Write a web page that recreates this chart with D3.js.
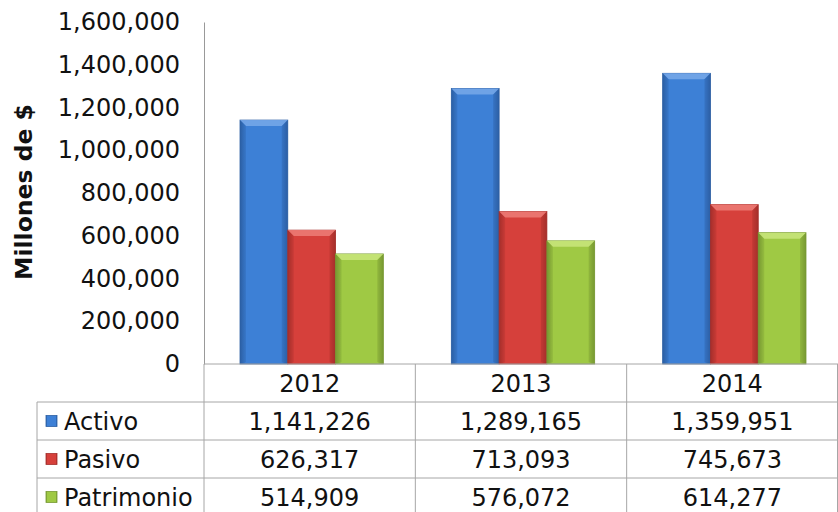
<!DOCTYPE html>
<html>
<head>
<meta charset="utf-8">
<script src="https://cdn.jsdelivr.net/npm/d3@7"></script>
<style>
  body { margin: 0; background: #fff; }
  svg text { font-family: "DejaVu Sans", Verdana, sans-serif; fill: #111; }
</style>
</head>
<body>
<div id="chart"></div>
<script>
// data
var years = ["2012", "2013", "2014"];
var series = ["Activo", "Pasivo", "Patrimonio"];
var activo = [1141226, 1289165, 1359951];
var pasivo = [626317, 713093, 745673];
var patrimonio = [514909, 576072, 614277];
var yTicks = [0, 200000, 400000, 600000, 800000, 1000000, 1200000, 1400000, 1600000];

var values = [activo, pasivo, patrimonio];
var colors = [
    { mid: "#3d80d6", edge: "#2c5fa4", top: "#74a6e8" },
    { mid: "#d6403b", edge: "#a52f2b", top: "#ec7a74" },
    { mid: "#9fc944", edge: "#779932", top: "#c6e47a" }
];

var W = 838, H = 512;
var plotLeft = 204, plotRight = 838, plotTop = 22, base = 364;
var rowH = 38, tableLeft = 37;
var fontSize = "24px";

var svg = d3.select("#chart").append("svg")
    .attr("width", W)
    .attr("height", H);

var defs = svg.append("defs");
colors.forEach(function (c, i) {
    var g = defs.append("linearGradient")
        .attr("id", "grad" + i)
        .attr("x1", "0").attr("x2", "1").attr("y1", "0").attr("y2", "0");
    g.append("stop").attr("offset", "0").attr("stop-color", c.edge);
    g.append("stop").attr("offset", "0.12").attr("stop-color", c.mid);
    g.append("stop").attr("offset", "0.5").attr("stop-color", c.mid);
    g.append("stop").attr("offset", "0.88").attr("stop-color", c.mid);
    g.append("stop").attr("offset", "1").attr("stop-color", c.edge);
});

// scales
var x0 = d3.scaleBand().domain(years).range([plotLeft, plotRight]).padding(0);
var bw = x0.bandwidth();
var x1 = d3.scaleBand().domain(series).range([36, bw - 32]).padding(0);
var y = d3.scaleLinear().domain([0, 1600000]).range([base, plotTop]);

// y axis
var yAxis = d3.axisLeft(y).tickValues(yTicks).tickFormat(d3.format(",")).tickSize(0).tickPadding(24);
var ya = svg.append("g")
    .attr("transform", "translate(" + plotLeft + ",0)")
    .call(yAxis);
ya.select(".domain").attr("stroke", "#999");
ya.selectAll("text")
    .style("font-size", fontSize)
    .style("font-family", "DejaVu Sans, Verdana, sans-serif")
    .attr("fill", "#111");

svg.append("text")
    .attr("transform", "translate(32,192) rotate(-90)")
    .attr("text-anchor", "middle")
    .style("font-size", "23.5px")
    .style("font-weight", "bold")
    .text("Millones de $");

// bars
var groups = svg.selectAll("g.year")
    .data(years)
    .enter().append("g")
    .attr("class", "year")
    .attr("transform", function (d) { return "translate(" + x0(d) + ",0)"; });

groups.each(function (yr, yi) {
    var g = d3.select(this);
    series.forEach(function (s, si) {
        var v = values[si][yi];
        var bx = x1(s), by = y(v), w = x1.bandwidth(), h = base - by;
        var c = colors[si];
        g.append("rect")
            .attr("x", bx).attr("y", by)
            .attr("width", w).attr("height", h)
            .attr("fill", "url(#grad" + si + ")")
            .attr("stroke", c.edge).attr("stroke-width", 0.8);
        // bevel
        var b = 6;
        g.append("polygon")
            .attr("points", [[bx, by], [bx + w, by], [bx + w - b, by + b], [bx + b, by + b]].join(" "))
            .attr("fill", c.top).attr("opacity", 0.9);
        g.append("polygon")
            .attr("points", [[bx, by], [bx + b, by + b], [bx + b, base - 2], [bx, base]].join(" "))
            .attr("fill", c.edge).attr("opacity", 0.3);
        g.append("polygon")
            .attr("points", [[bx + w, by], [bx + w - b, by + b], [bx + w - b, base - 2], [bx + w, base]].join(" "))
            .attr("fill", c.edge).attr("opacity", 0.4);
    });
});

// data table
var lineColor = "#a6a6a6";
var table = svg.append("g").attr("class", "table");

table.append("line").attr("x1", plotLeft).attr("x2", plotRight).attr("y1", base).attr("y2", base)
    .attr("stroke", lineColor);
[1, 2, 3].forEach(function (r) {
    table.append("line")
        .attr("x1", tableLeft).attr("x2", plotRight)
        .attr("y1", base + rowH * r).attr("y2", base + rowH * r)
        .attr("stroke", lineColor);
});
years.forEach(function (yr) {
    table.append("line")
        .attr("x1", x0(yr)).attr("x2", x0(yr))
        .attr("y1", base).attr("y2", H)
        .attr("stroke", lineColor);
});
table.append("line").attr("x1", plotRight - 0.5).attr("x2", plotRight - 0.5).attr("y1", base).attr("y2", H)
    .attr("stroke", lineColor);
table.append("line").attr("x1", tableLeft).attr("x2", tableLeft).attr("y1", base + rowH).attr("y2", H)
    .attr("stroke", lineColor);

// header
years.forEach(function (yr) {
    table.append("text")
        .attr("x", x0(yr) + bw / 2)
        .attr("y", base + rowH / 2)
        .attr("dy", "0.36em")
        .attr("text-anchor", "middle")
        .style("font-size", fontSize)
        .text(yr);
});

var fmt = d3.format(",");
series.forEach(function (s, si) {
    var cy = base + rowH * (si + 1) + rowH / 2;
    table.append("rect")
        .attr("x", 46).attr("y", cy - 5.5)
        .attr("width", 11).attr("height", 11)
        .attr("fill", "url(#grad" + si + ")")
        .attr("stroke", colors[si].edge).attr("stroke-width", 0.8);
    table.append("text")
        .attr("x", 64).attr("y", cy)
        .attr("dy", "0.36em")
        .style("font-size", fontSize)
        .text(s);
    years.forEach(function (yr, yi) {
        table.append("text")
            .attr("x", x0(yr) + bw / 2)
            .attr("y", cy)
            .attr("dy", "0.36em")
            .attr("text-anchor", "middle")
            .style("font-size", fontSize)
            .text(fmt(values[si][yi]));
    });
});
</script>
</body>
</html>
